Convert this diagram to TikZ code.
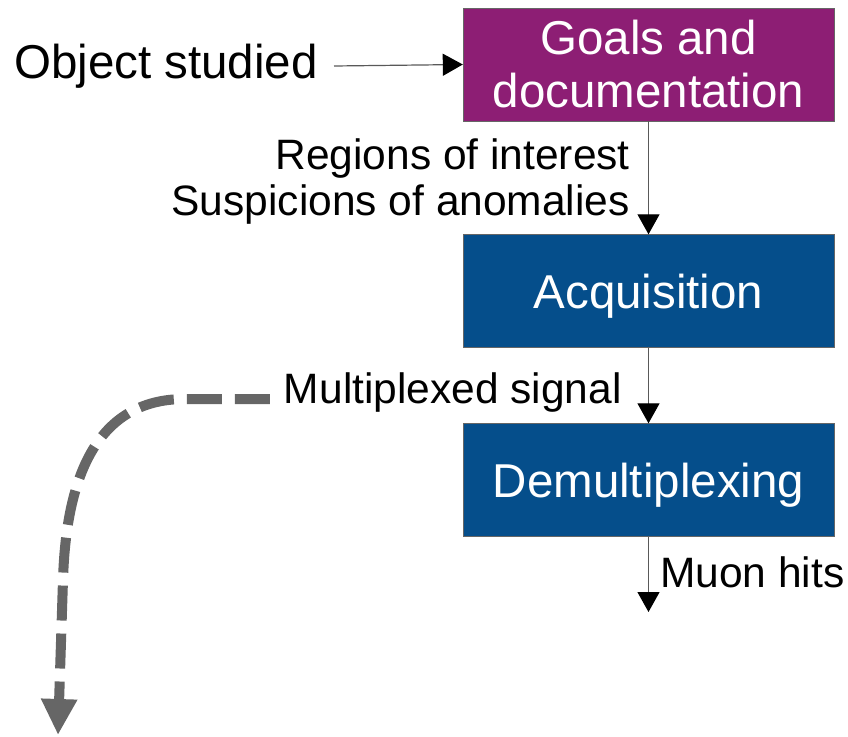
\documentclass[tikz,border=0pt]{standalone}
\usepackage{fontspec}
\setmainfont{Liberation Sans}
\usepackage{xcolor}
\usetikzlibrary{positioning,arrows.meta}

\definecolor{goalpurple}{RGB}{141,30,116}
\definecolor{stepblue}{RGB}{5,78,139}
\definecolor{flowgray}{RGB}{102,102,102}

\tikzset{
  stepbox/.style={draw=black!60, minimum width=371pt, minimum height=113pt, inner sep=0pt,
    text height=34pt, text depth=0pt,
    text=white, align=center, font=\fontsize{47.5}{53}\selectfont},
  bigtext/.style={font=\fontsize{47.5}{53}\selectfont, inner xsep=16pt},
  smalltext/.style={font=\fontsize{42.5}{46}\selectfont, inner xsep=14pt},
  flow/.style={draw=black!65, line width=1.2pt, -{Triangle[width=22pt,length=20pt,color=black]}},
  outflow/.style={draw=flowgray, line width=10pt, dash pattern=on 35pt off 13pt,
    -{Triangle[width=34pt,length=36pt]}}
}

\begin{document}
\begin{tikzpicture}[x=1pt,y=-1pt]

\useasboundingbox (0,0) rectangle (848,736);

\node[stepbox, fill=goalpurple, text height=86pt](goals) at (648.5,64.5) {Goals and\\documentation};
\node[stepbox, fill=stepblue](acq) at (648.5,291) {Acquisition};
\node[stepbox, fill=stepblue](demux) at (648.5,480) {Demultiplexing};

\node[bigtext, anchor=east](object) at (334,66) {Object studied};
\draw[flow] (object.east) -- (goals.west);

\node[smalltext, anchor=east, align=right](regions) at (644,182) {Regions of interest\\Suspicions of anomalies};
\draw[flow] (goals.south) -- (acq.north);

\node[smalltext, anchor=east](signal) at (636,393) {Multiplexed signal};
\draw[flow] (acq.south) -- (demux.north);

\node[smalltext, anchor=west](muon) at (646,572) {Muon hits};
\coordinate (muonend) at (648.5,612);
\draw[flow] (demux.south) -- (muonend);

% demultiplexed signal leaves the chain
\coordinate (offpage) at (58,735);
\draw[outflow] ([yshift=-6pt]signal.west) -- (185,399) .. controls (95,399) and (66,480) .. (63,580) -- (offpage);

\end{tikzpicture}
\end{document}
